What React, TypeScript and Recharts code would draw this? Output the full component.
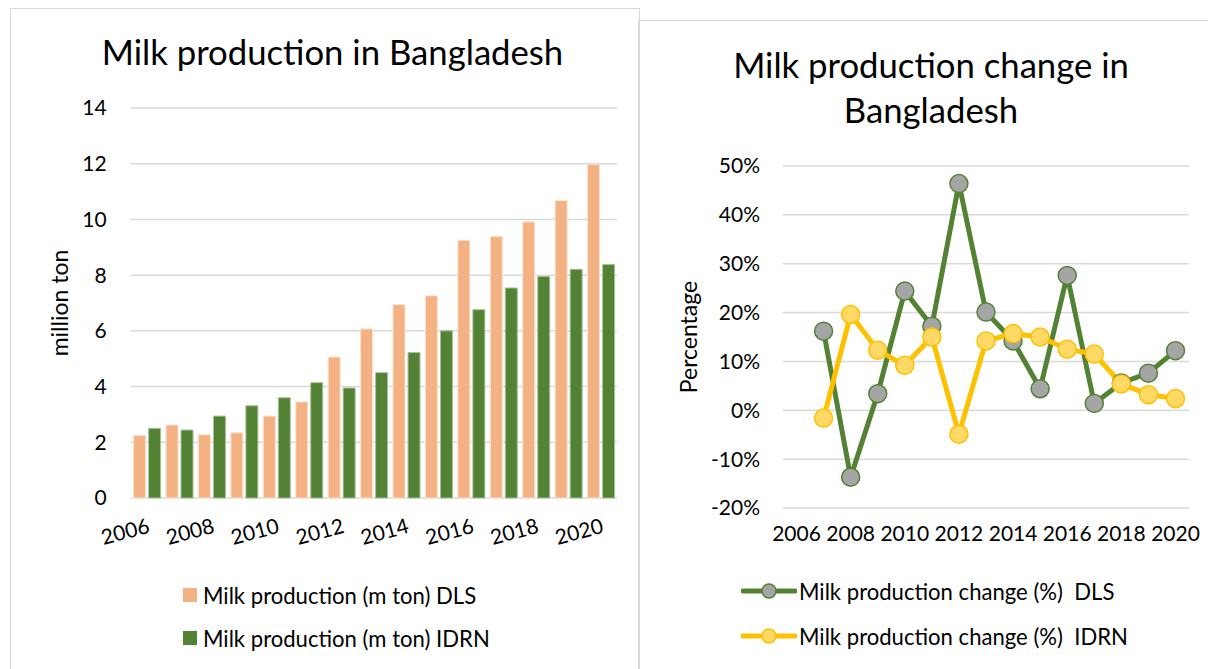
import { BarChart, Bar, LineChart, Line, XAxis, YAxis, CartesianGrid } from "recharts";

const years = ["2006", "2007", "2008", "2009", "2010", "2011", "2012", "2013", "2014", "2015", "2016", "2017", "2018", "2019", "2020"];

// million ton
const dlsProd = [2.25, 2.62, 2.27, 2.34, 2.94, 3.45, 5.06, 6.07, 6.94, 7.26, 9.25, 9.39, 9.91, 10.68, 11.98];
const idrnProd = [2.5, 2.44, 2.94, 3.31, 3.6, 4.14, 3.95, 4.5, 5.22, 6.0, 6.76, 7.54, 7.95, 8.21, 8.38];

// % change, no value for 2006
const dlsChange = [null, 16.2, -13.7, 3.4, 24.4, 17.2, 46.4, 20.1, 14.2, 4.4, 27.6, 1.4, 5.6, 7.6, 12.2];
const idrnChange = [null, -1.6, 19.6, 12.3, 9.2, 15.0, -4.9, 14.2, 15.7, 15.0, 12.5, 11.5, 5.4, 3.2, 2.4];

const prodTicks = [0, 2, 4, 6, 8, 10, 12, 14];
const changeTicks = [-20, -10, 0, 10, 20, 30, 40, 50];

const FONT = "Lato, 'Open Sans', sans-serif";
const ORANGE = "#F4B183";
const GREEN = "#548235";
const YELLOW = "#FFC000";
const GRID = "#D9D9D9";

const prodData = years.map((y, i) => ({ year: y, dls: dlsProd[i], idrn: idrnProd[i] }));
const changeData = years.map((y, i) => ({ year: y, dls: dlsChange[i], idrn: idrnChange[i] }));

const tickStyle = { fill: "#000", fontSize: 21, fontFamily: FONT };

function LegendLine({ color, fill }: { color: string; fill: string }) {
  return (
    <svg width={56} height={20} style={{ display: "block" }}>
      <line x1={2} y1={10} x2={54} y2={10} stroke={color} strokeWidth={5} strokeLinecap="round" />
      <circle cx={28} cy={10} r={7} fill={fill} stroke={color} strokeWidth={1.5} />
    </svg>
  );
}

export default function App() {
  return (
    <div style={{ position: "absolute", left: 0, top: 0, width: 1208, height: 669, background: "#fff", overflow: "hidden", fontFamily: FONT }}>
      {/* panel frames */}
      <div style={{ position: "absolute", left: 10, top: 8, width: 628, height: 700, borderTop: `1.5px solid ${GRID}`, borderLeft: `1.5px solid ${GRID}`, borderRight: `1.5px solid ${GRID}` }} />
      <div style={{ position: "absolute", left: 638, top: 20, width: 600, height: 700, borderTop: `1.5px solid ${GRID}`, borderLeft: `1.5px solid ${GRID}` }} />

      {/* left chart */}
      <div style={{ position: "absolute", left: 0, top: 0 }}>
        <BarChart
          width={640}
          height={669}
          data={prodData}
          margin={{ top: 108, right: 23, bottom: 111, left: 0 }}
          barCategoryGap={3}
          barGap={3}
        >
          <CartesianGrid vertical={false} stroke={GRID} strokeWidth={1.5} />
          <XAxis
            dataKey="year"
            axisLine={false}
            tickLine={false}
            tickSize={0}
            tickMargin={20}
            interval={1}
            height={60}
            angle={-15}
            textAnchor="end"
            tick={tickStyle}
          />
          <YAxis
            width={130.6}
            domain={[0, 14]}
            ticks={prodTicks}
            axisLine={false}
            tickLine={false}
            tickSize={0}
            tickMargin={24}
            tick={tickStyle}
            label={{ value: "million ton", angle: -90, position: "insideLeft", offset: 60, fontSize: 23, fontFamily: FONT, fill: "#000", style: { textAnchor: "middle" } }}
          />
          <Bar dataKey="dls" fill={ORANGE} stroke="#fbe3d2" strokeWidth={1} isAnimationActive={false} />
          <Bar dataKey="idrn" fill={GREEN} stroke="#a9c19a" strokeWidth={1} isAnimationActive={false} />
        </BarChart>
      </div>
      <div style={{ position: "absolute", left: 0, width: 665, top: 31, textAlign: "center", fontSize: 34.7, lineHeight: "42px", color: "#000" }}>
        Milk production in Bangladesh
      </div>
      <div style={{ position: "absolute", left: 183, top: 582, fontSize: 22.1, color: "#000" }}>
        <div style={{ display: "flex", alignItems: "center", height: 26 }}>
          <span style={{ width: 14, height: 14, background: ORANGE, marginRight: 6 }} />
          Milk production (m ton) DLS
        </div>
        <div style={{ display: "flex", alignItems: "center", height: 26, marginTop: 17 }}>
          <span style={{ width: 14, height: 14, background: GREEN, marginRight: 6 }} />
          Milk production (m ton) IDRN
        </div>
      </div>

      {/* right chart */}
      <div style={{ position: "absolute", left: 640, top: 0 }}>
        <LineChart
          width={568}
          height={669}
          data={changeData}
          margin={{ top: 166, right: 19, bottom: 121, left: 0 }}
        >
          <CartesianGrid vertical={false} stroke={GRID} strokeWidth={1.5} />
          <XAxis
            dataKey="year"
            axisLine={false}
            tickLine={false}
            tickSize={0}
            tickMargin={18}
            interval={1}
            height={40}
            padding={{ left: 13.5, right: 13.5 }}
            tick={tickStyle}
          />
          <YAxis
            width={143}
            domain={[-20, 50]}
            ticks={changeTicks}
            tickFormatter={(v: number) => `${v}%`}
            axisLine={false}
            tickLine={false}
            tickSize={0}
            tickMargin={23}
            tick={tickStyle}
            label={{ value: "Percentage", angle: -90, position: "insideLeft", offset: 49, fontSize: 23, fontFamily: FONT, fill: "#000", style: { textAnchor: "middle" } }}
          />
          <Line
            dataKey="dls"
            stroke={GREEN}
            strokeWidth={5}
            dot={{ r: 9, fill: "#A5A5A5", stroke: GREEN, strokeWidth: 1.5 }}
            isAnimationActive={false}
          />
          <Line
            dataKey="idrn"
            stroke={YELLOW}
            strokeWidth={5}
            dot={{ r: 9, fill: "#FFD966", stroke: YELLOW, strokeWidth: 1.5 }}
            isAnimationActive={false}
          />
        </LineChart>
      </div>
      <div style={{ position: "absolute", left: 640, width: 582, top: 42, textAlign: "center", fontSize: 34.7, lineHeight: "45px", color: "#000" }}>
        Milk production change in
        <br />
        Bangladesh
      </div>
      <div style={{ position: "absolute", left: 741, top: 578, fontSize: 22.1, color: "#000" }}>
        <div style={{ display: "flex", alignItems: "center", height: 26, whiteSpace: "pre" }}>
          <LegendLine color={GREEN} fill="#A5A5A5" />
          <span style={{ marginLeft: 2 }}>Milk production change (%)  DLS</span>
        </div>
        <div style={{ display: "flex", alignItems: "center", height: 26, marginTop: 19, whiteSpace: "pre" }}>
          <LegendLine color={YELLOW} fill="#FFD966" />
          <span style={{ marginLeft: 2 }}>Milk production change (%)  IDRN</span>
        </div>
      </div>
    </div>
  );
}
